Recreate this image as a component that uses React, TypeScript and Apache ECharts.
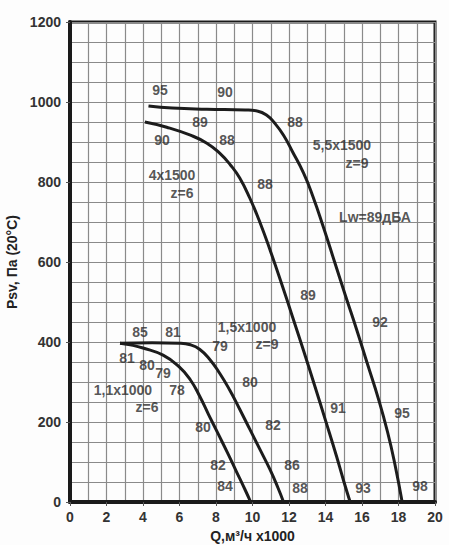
import React, { useEffect, useRef } from "react";
import * as echarts from "echarts";

// Fan performance curves: flow Q (thousand m³/h) vs static pressure Psv (Pa)
const curve55x1500: [number, number][] = [
  [4.3, 990], [5.6, 985], [7.5, 982], [9.6, 980], [10.3, 977], [10.8, 966],
  [11.2, 948], [11.7, 917], [12.2, 875], [12.8, 822], [13.3, 765], [13.9, 685],
  [14.5, 600], [15.1, 515], [15.7, 432], [16.3, 345], [16.9, 258], [17.4, 175],
  [17.8, 95], [18.2, 0],
];
const curve4x1500: [number, number][] = [
  [4.1, 950], [5.3, 937], [6.6, 917], [7.5, 897], [8.2, 872], [8.8, 842],
  [9.3, 810], [9.85, 760], [10.4, 700], [11.0, 625], [11.6, 545], [12.2, 462],
  [12.8, 378], [13.4, 292], [14.0, 204], [14.6, 115], [15.0, 52], [15.35, 0],
];
const curve15x1000: [number, number][] = [
  [2.74, 397], [4.5, 398], [6.0, 397], [6.6, 393], [7.1, 382], [7.65, 357],
  [8.2, 322], [8.75, 280], [9.3, 232], [9.85, 182], [10.4, 132], [10.95, 82],
  [11.4, 35], [11.7, 0],
];
const curve11x1000: [number, number][] = [
  [2.74, 397], [3.3, 393], [4.0, 385], [5.1, 367], [6.0, 337], [6.6, 305],
  [7.1, 265], [7.6, 218], [8.1, 172], [8.6, 126], [9.1, 78], [9.6, 30], [9.9, 0],
];

// Text notes placed in data coordinates: [Q, Psv, text]
const notes: [number, number, string][] = [
  [4.93, 1030, "95"], [8.49, 1025, "90"], [7.12, 950, "89"], [5.04, 905, "90"],
  [8.6, 905, "88"], [12.33, 950, "88"], [5.59, 817, "4x1500"], [6.14, 772, "z=6"],
  [10.68, 795, "88"], [14.9, 892, "5,5x1500"], [15.73, 847, "z=9"],
  [16.71, 712, "Lw=89дБА"], [13.04, 517, "89"], [16.99, 450, "92"],
  [9.7, 437, "1,5x1000"], [10.8, 395, "z=9"], [8.22, 390, "79"],
  [3.84, 425, "85"], [5.64, 425, "81"], [3.12, 360, "81"], [4.22, 342, "80"],
  [5.1, 322, "79"], [2.9, 280, "1,1x1000"], [5.86, 280, "78"], [4.22, 237, "z=6"],
  [9.86, 300, "80"], [7.29, 187, "80"], [11.12, 192, "82"], [8.11, 92, "82"],
  [8.49, 40, "84"], [12.16, 92, "86"], [12.6, 35, "88"], [14.68, 235, "91"],
  [18.19, 222, "95"], [16.05, 35, "93"], [19.18, 40, "98"],
];

const FONT = "'Liberation Sans', Arial, sans-serif";

export default function App() {
  const ref = useRef<HTMLDivElement>(null);

  useEffect(() => {
    if (!ref.current) return;
    const chart = echarts.init(ref.current, undefined, { renderer: "svg" });
    const curveStyle = { color: "#1c1c1c", width: 3 };
    const mkCurve = (name: string, data: [number, number][]) => ({
      name,
      type: "line",
      data,
      smooth: 0.5,
      showSymbol: false,
      lineStyle: curveStyle,
      z: 3,
    });
    const gridLine = { show: true, lineStyle: { color: "#8a8a8a", width: 1.2 } };
    const tickFont = { fontFamily: FONT, fontWeight: "bold", fontSize: 14, color: "#333" };

    chart.setOption({
      animation: false,
      backgroundColor: "#fdfdfd",
      grid: {
        left: 70, right: 14, top: 22, bottom: 43,
        outerBoundsMode: "none",
        containLabel: false,
        show: true, borderColor: "#1a1a1a", borderWidth: 3,
      },
      xAxis: {
        type: "value", min: 0, max: 20, interval: 2,
        name: "Q,м³/ч x1000", nameLocation: "middle", nameGap: 24,
        nameTextStyle: { fontFamily: FONT, fontWeight: "bold", fontSize: 14, color: "#222" },
        axisLine: { show: true, lineStyle: { color: "#1a1a1a", width: 4 } },
        axisTick: { show: true, length: 4, lineStyle: { color: "#555" } },
        axisLabel: { ...tickFont, margin: 8, formatter: (v: number) => String(v) },
        splitLine: gridLine,
        minorTick: { show: false, splitNumber: 2 },
        minorSplitLine: gridLine,
      },
      yAxis: {
        type: "value", min: 0, max: 1200, interval: 200,
        name: "Psv, Па (20°C)", nameLocation: "middle", nameGap: 46,
        nameTextStyle: { fontFamily: FONT, fontWeight: "bold", fontSize: 14, color: "#222" },
        axisLine: { show: true, lineStyle: { color: "#1a1a1a", width: 4 } },
        axisTick: { show: true, length: 4, lineStyle: { color: "#555" } },
        axisLabel: { ...tickFont, margin: 9, formatter: (v: number) => String(v) },
        splitLine: gridLine,
        minorTick: { show: false, splitNumber: 4 },
        minorSplitLine: gridLine,
      },
      series: [
        mkCurve("5,5x1500", curve55x1500),
        mkCurve("4x1500", curve4x1500),
        mkCurve("1,5x1000", curve15x1000),
        mkCurve("1,1x1000", curve11x1000),
        {
          name: "notes",
          type: "scatter",
          data: notes,
          symbolSize: 1,
          itemStyle: { color: "rgba(0,0,0,0)" },
          z: 4,
          label: {
            show: true,
            position: "inside",
            formatter: (p: any) => p.value[2],
            fontFamily: FONT,
            fontWeight: "bold",
            fontSize: 14,
            color: "#2a2a2a",
          },
        },
      ],
    });
    return () => chart.dispose();
  }, []);

  return (
    <div
      ref={ref}
      style={{ position: "fixed", left: 0, top: 0, width: 449, height: 545 }}
    />
  );
}
